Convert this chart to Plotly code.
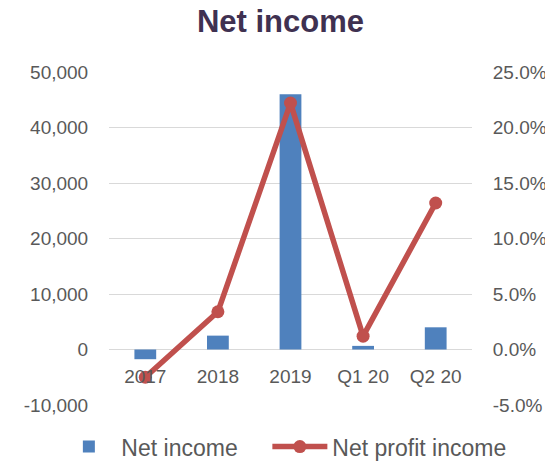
import plotly.graph_objects as go

# 数据
categories = ["2017", "2018", "2019", "Q1 20", "Q2 20"]
net_income = [-1750, 2500, 46000, 650, 4000]
net_profit_pct = [-0.025, 0.034, 0.222, 0.012, 0.132]

left_ticks = [-10000, 0, 10000, 20000, 30000, 40000, 50000]
left_labels = ["-10,000", "0", "10,000", "20,000", "30,000", "40,000", "50,000"]
right_ticks = [-0.05, 0, 0.05, 0.10, 0.15, 0.20, 0.25]
right_labels = ["-5.0%", "0.0%", "5.0%", "10.0%", "15.0%", "20.0%", "25.0%"]

FONT = "Arial, Liberation Sans, sans-serif"
GRAY = "#595959"
CLEAR = "rgba(0,0,0,0)"

fig = go.Figure()
fig.add_trace(go.Bar(
    x=categories, y=net_income, name="Net income",
    marker=dict(color="#4F81BD", line=dict(width=0)), width=0.3,
    legendwidth=141,
))
fig.add_trace(go.Scatter(
    x=categories, y=net_profit_pct, name="Net profit income", yaxis="y2",
    mode="lines+markers",
    line=dict(color="#C0504D", width=5.5),
    marker=dict(color="#C0504D", size=13),
))

# 页面 body 自带 8px 边距，所以整体缩小 8px
fig.update_layout(
    width=545, height=458,
    margin=dict(l=101, r=81, t=64, b=61, autoexpand=False),
    paper_bgcolor="white", plot_bgcolor="white",
    font=dict(family=FONT, color=GRAY, size=19),
    title=dict(text="<b>Net income</b>", x=0.5, xanchor="center", y=0.972, yanchor="middle",
               font=dict(family=FONT, size=31, color="#3F3151")),
    xaxis=dict(anchor="free", position=1/6, showline=False, showgrid=False,
               ticks="outside", ticklen=10, tickcolor=CLEAR,
               tickfont=dict(size=19, color=GRAY)),
    yaxis=dict(range=[-10000, 50000], tickvals=left_ticks, ticktext=left_labels,
               showgrid=True, gridcolor="#d9d9d9", gridwidth=1.3, zeroline=False,
               showline=False, ticks="outside", ticklen=16, tickcolor=CLEAR,
               tickfont=dict(size=19, color=GRAY)),
    yaxis2=dict(range=[-0.05, 0.25], tickvals=right_ticks, ticktext=right_labels,
                overlaying="y", side="right", showgrid=False, zeroline=False,
                showline=False, ticks="outside", ticklen=16, tickcolor=CLEAR,
                tickfont=dict(size=19, color=GRAY)),
    # 图例放在绘图区左下外侧，横向不换行
    legend=dict(orientation="h", x=-0.145, xanchor="left", y=-0.125, yanchor="middle",
                font=dict(size=23, color=GRAY), itemwidth=55),
    showlegend=True,
)

fig.write_html("out.html")
